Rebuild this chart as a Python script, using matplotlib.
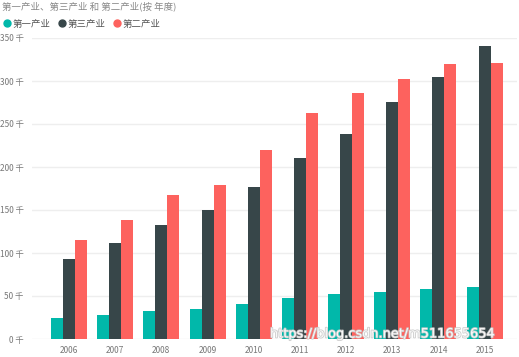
import matplotlib
matplotlib.use('Agg')
import matplotlib.pyplot as plt
import matplotlib.patheffects as pe
from matplotlib.lines import Line2D
import numpy as np

plt.rcParams['font.family'] = ['Noto Sans CJK SC', 'DejaVu Sans']

# Data (units: 千)
years = ['2006', '2007', '2008', '2009', '2010', '2011', '2012', '2013', '2014', '2015']
primary = [24.0, 28.3, 32.9, 35.3, 40.3, 47.3, 52.3, 55.0, 58.5, 60.9]
tertiary = [92.6, 112.0, 132.2, 150.0, 176.4, 210.5, 238.4, 276.0, 305.0, 341.0]
secondary = [115.5, 138.8, 167.0, 179.5, 219.8, 263.2, 285.7, 302.3, 320.2, 320.5]

series_names = ['第一产业', '第三产业', '第二产业']
colors = ['#01B8AA', '#374649', '#FD625E']
yticks = [0, 50, 100, 150, 200, 250, 300, 350]
ytick_labels = ['%d 千' % v for v in yticks]

fig = plt.figure(figsize=(5.19, 3.57), dpi=100)
ax = fig.add_axes([32 / 519, 18 / 357, 485 / 519, 301 / 357])

x = np.arange(len(years))
w = 0.26
for i, (vals, c) in enumerate(zip([primary, tertiary, secondary], colors)):
    ax.bar(x + (i - 1) * w, vals, w, color=c, edgecolor='none', zorder=3)

ax.set_xlim(-0.8, 9.7)
ax.set_ylim(0, 350)
ax.set_yticks(yticks)
ax.set_yticklabels(ytick_labels)
ax.set_xticks(x)
ax.set_xticklabels(years)
ax.tick_params(axis='both', length=0, labelsize=6, colors='#777777')
ax.tick_params(axis='y', pad=6)
ax.tick_params(axis='x', pad=5)
ax.grid(axis='y', color='#eeeeee', linewidth=1, zorder=0)
for s in ax.spines.values():
    s.set_visible(False)

# Title
fig.text(2 / 519, 1 - 6 / 357, '第一产业、第三产业 和 第二产业(按 年度)',
         fontsize=6.8, color='#888888', va='center', ha='left')

# Legend
handles = [Line2D([], [], marker='o', linestyle='none', markersize=5,
                  markerfacecolor=c, markeredgecolor=c) for c in colors]
leg = fig.legend(handles, series_names, loc='center left',
                 bbox_to_anchor=(-0.005, 1 - 24 / 357), ncol=3, frameon=False,
                 fontsize=6.8, handletextpad=0.0, columnspacing=0.6,
                 handlelength=1.2, borderaxespad=0)
for t in leg.get_texts():
    t.set_color('#555555')

# Watermark
fig.text(270 / 519, 1 - 334 / 357, 'https://blog.csdn.net/m511655654',
         fontsize=9.3, color='white', alpha=0.9, va='center', ha='left',
         family='DejaVu Sans',
         path_effects=[pe.withStroke(linewidth=1.2, foreground='#c8c8c8')])

fig.savefig('out.png', dpi=100)
